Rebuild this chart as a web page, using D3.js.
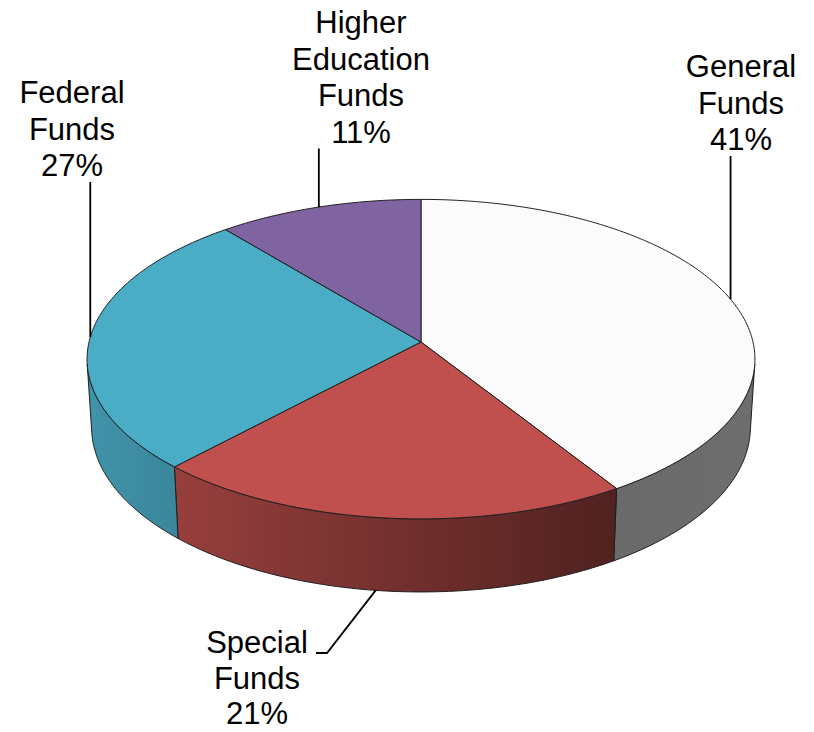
<!DOCTYPE html>
<html>
<head>
<meta charset="utf-8">
<script src="https://cdn.jsdelivr.net/npm/d3@7"></script>
<style>
  body { margin: 0; background: #ffffff; }
  svg { display: block; }
</style>
</head>
<body>
<svg id="chart" width="814" height="732"></svg>
<script>
// ---- data ----
const categories = ["General Funds", "Special Funds", "Federal Funds", "Higher Education Funds"];
const values = [41, 21, 27, 11];
const topColors = ["#fbfbfb", "#c0504d", "#4bacc6", "#8064a2"];

// ---- label layout (centre x, first baseline) ----
const labelLayout = [
  { x: 741, y: 77 },
  { x: 257, y: 653 },
  { x: 72,  y: 103 },
  { x: 361, y: 33 }
];
const lineHeight = 36.5;

// ---- 3D projection of a tilted disc viewed in perspective ----
const cx = 421, cy = 342;          // screen position of the disc centre
const D = 8.2;                      // camera distance (disc radius = 1)
const F = 332 * D;                  // focal scale
const phi = 28.4 * Math.PI / 180;   // elevation of the view
const H = 0.235;                    // thickness of the disc

function project(theta, z) {
  const x = Math.sin(theta), y = Math.cos(theta);
  const yc = y * Math.sin(phi) + z * Math.cos(phi);
  const dc = D + y * Math.cos(phi) - z * Math.sin(phi);
  return [cx + F * x / dc, cy - F * yc / dc];
}

// the outer wall faces the camera only on this range of angles
const wallStart = Math.acos(-1 / (D * Math.cos(phi)));
const wallEnd = 2 * Math.PI - wallStart;

const svg = d3.select("#chart");
const defs = svg.append("defs");

const pie = d3.pie().sort(null).startAngle(0).endAngle(2 * Math.PI);
const arcs = pie(values);

const line = d3.line();

function samples(a0, a1, z) {
  const n = Math.max(2, Math.ceil(Math.abs(a1 - a0) / 0.01));
  return d3.range(n + 1).map(i => project(a0 + (a1 - a0) * i / n, z));
}

// horizontal shading of the side walls
const shade = d3.scaleLinear().domain([87, 610, 755]).range([0.86, 0.42, 0.44]).clamp(true);
const gradX0 = 85, gradX1 = 757;

arcs.forEach((a, i) => {
  const base = d3.rgb(topColors[i]);
  const g = defs.append("linearGradient")
    .attr("id", "wall" + i)
    .attr("gradientUnits", "userSpaceOnUse")
    .attr("x1", gradX0).attr("x2", gradX1)
    .attr("y1", 0).attr("y2", 0);
  d3.range(0, 1.0001, 0.05).forEach(t => {
    const k = shade(gradX0 + t * (gradX1 - gradX0));
    g.append("stop")
      .attr("offset", t)
      .attr("stop-color", d3.rgb(base.r * k, base.g * k, base.b * k).formatHex());
  });
});

const edgeColor = "#1e1e1e";

// ---- side walls ----
const wallG = svg.append("g");
arcs.forEach((a, i) => {
  const a0 = Math.max(a.startAngle, wallStart);
  const a1 = Math.min(a.endAngle, wallEnd);
  if (a1 <= a0) return;
  const topEdge = samples(a0, a1, 0);
  const bottomEdge = samples(a1, a0, -H);
  wallG.append("path")
    .attr("d", line(topEdge.concat(bottomEdge)) + "Z")
    .attr("fill", `url(#wall${i})`)
    .attr("stroke", edgeColor)
    .attr("stroke-width", 1)
    .attr("stroke-linejoin", "round");
});

// ---- top faces ----
const topG = svg.append("g");
arcs.forEach((a, i) => {
  const pts = [[cx, cy]].concat(samples(a.startAngle, a.endAngle, 0));
  topG.append("path")
    .attr("d", line(pts) + "Z")
    .attr("fill", topColors[i])
    .attr("stroke", edgeColor)
    .attr("stroke-width", 1)
    .attr("stroke-linejoin", "round");
});

// ---- leader lines ----
const leaderG = svg.append("g")
  .attr("fill", "none")
  .attr("stroke", "#000")
  .attr("stroke-width", 1.8);

arcs.forEach((a, i) => {
  const mid = (a.startAngle + a.endAngle) / 2;
  const lay = labelLayout[i];
  const nLines = categories[i].split(" ").length + 1;
  if (Math.cos(mid) < -0.9) {
    // front slice: anchor on the lower rim, elbow to the label's side
    const p = project(mid + 0.03, -H);
    const elbowY = lay.y;
    leaderG.append("path").attr("d", line([
      p,
      [lay.x + 70, elbowY],
      [lay.x + 59, elbowY]
    ]));
  } else {
    const p = project(mid, 0);
    const topY = lay.y + (nLines - 1) * lineHeight + 6;
    leaderG.append("path").attr("d", line([[p[0], topY], p]));
  }
});

// ---- labels ----
const labelG = svg.append("g")
  .attr("font-family", "'Liberation Sans', Arial, Helvetica, sans-serif")
  .attr("font-size", 31)
  .attr("fill", "#000")
  .attr("text-anchor", "middle");

arcs.forEach((a, i) => {
  const lay = labelLayout[i];
  const lines = categories[i].split(" ").concat([values[i] + "%"]);
  const t = labelG.append("text").attr("x", lay.x).attr("y", lay.y);
  lines.forEach((s, j) => {
    t.append("tspan")
      .attr("x", lay.x)
      .attr("y", lay.y + j * (i === 1 ? 35.5 : lineHeight))
      .text(s);
  });
});
</script>
</body>
</html>
